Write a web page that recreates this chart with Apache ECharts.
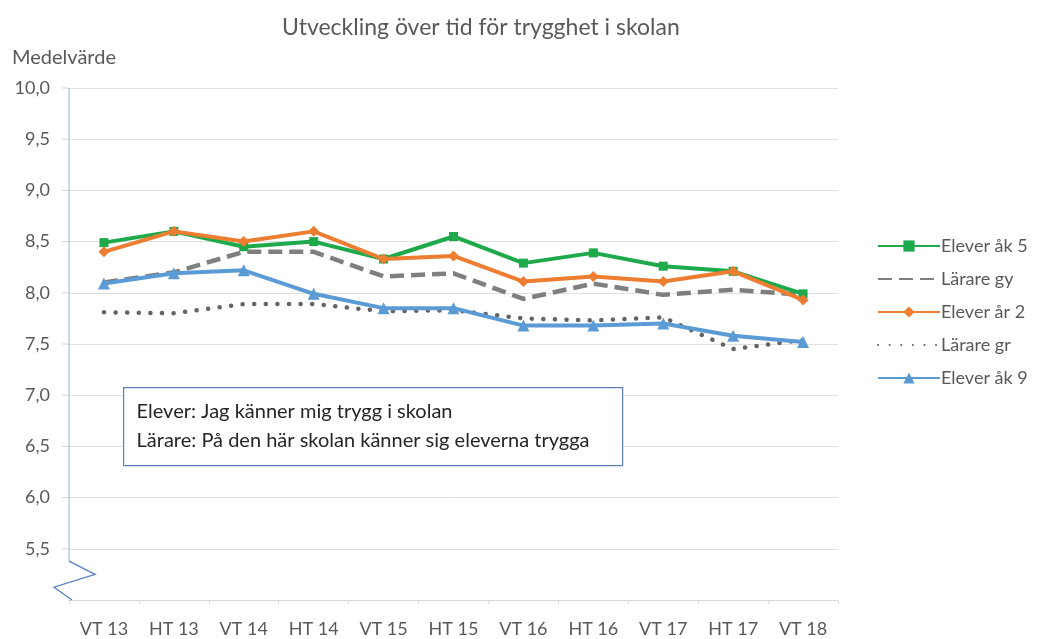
<!DOCTYPE html>
<html>
<head>
<meta charset="utf-8">
<script src="https://cdn.jsdelivr.net/npm/echarts@6/dist/echarts.min.js"></script>
<style>
html,body{margin:0;padding:0;background:#fff;}
#chart{width:1043px;height:639px;}
</style>
</head>
<body>
<div id="chart"></div>
<script>
var categories = ['VT 13','HT 13','VT 14','HT 14','VT 15','HT 15','VT 16','HT 16','VT 17','HT 17','VT 18'];
var eleverAk5  = [8.49, 8.60, 8.45, 8.50, 8.33, 8.55, 8.29, 8.39, 8.26, 8.21, 7.99];
var lararGy    = [8.10, 8.20, 8.40, 8.40, 8.16, 8.19, 7.94, 8.09, 7.98, 8.03, 7.98];
var eleverAr2  = [8.40, 8.60, 8.50, 8.60, 8.33, 8.36, 8.11, 8.16, 8.11, 8.21, 7.93];
var lararGr    = [7.81, 7.80, 7.89, 7.89, 7.82, 7.83, 7.75, 7.73, 7.76, 7.45, 7.54];
var eleverAk9  = [8.09, 8.19, 8.22, 7.99, 7.85, 7.85, 7.68, 7.68, 7.70, 7.58, 7.52];
var seriesNames = ['Elever åk 5','Lärare gy','Elever år 2','Lärare gr','Elever åk 9'];
var titleText = 'Utveckling över tid för trygghet i skolan';
var yAxisName = 'Medelvärde';
var noteLines = ['Elever: Jag känner mig trygg i skolan', 'Lärare: På den här skolan känner sig eleverna trygga'];

var FONT = 'Lato, "Open Sans", sans-serif';
var TXT = '#595959';

var chart = echarts.init(document.getElementById('chart'), null, {renderer:'canvas'});

function lineSeries(name, data, color, opts){
  return {
    name: name, type: 'line', data: data, z: opts.z || 2,
    symbol: opts.symbol || 'none', symbolSize: opts.symbolSize || 8,
    showSymbol: !!opts.symbol,
    lineStyle: {color: color, width: opts.width || 3.5, type: opts.type || 'solid', cap: opts.cap || 'butt'},
    itemStyle: {color: color},
    emphasis: {disabled: true},
    animation: false
  };
}

var hiddenIcon = {color: 'rgba(0,0,0,0)', borderWidth: 0, opacity: 0};

var option = {
  backgroundColor: '#fff',
  animation: false,
  title: {
    text: titleText, left: 277, top: 11,
    textStyle: {fontFamily: FONT, fontSize: 23, fontWeight: 'normal', color: TXT}
  },
  legend: {
    orient: 'vertical', left: 872, top: 232, itemGap: 15,
    itemWidth: 62, itemHeight: 14,
    textStyle: {fontFamily: FONT, fontSize: 18, lineHeight: 18, color: TXT, padding: [0,0,0,-4]},
    data: [
      {name: seriesNames[0]},
      {name: seriesNames[1], itemStyle: hiddenIcon},
      {name: seriesNames[2]},
      {name: seriesNames[3], itemStyle: hiddenIcon},
      {name: seriesNames[4]}
    ]
  },
  grid: {left: 69, right: 205, top: 88, bottom: 39, containLabel: false},
  xAxis: {
    type: 'category', data: categories, boundaryGap: true,
    axisLine: {show: true, lineStyle: {color: '#D9D9D9', width: 1}},
    axisTick: {show: true, length: 4, inside: false, lineStyle: {color: '#D9D9D9'}},
    axisLabel: {fontFamily: FONT, fontSize: 18, color: TXT, margin: 20}
  },
  yAxis: {
    type: 'value', min: 5, max: 10, interval: 0.5,
    name: yAxisName, nameLocation: 'end', nameGap: 20,
    nameTextStyle: {fontFamily: FONT, fontSize: 20, color: TXT, align: 'left', padding: [0,0,0,-57]},
    axisLine: {show: false},
    axisTick: {show: false},
    splitLine: {show: true, lineStyle: {color: '#E0E0E0', width: 1}},
    axisLabel: {
      fontFamily: FONT, fontSize: 18, color: TXT, margin: 19,
      formatter: function(v){ if (v <= 5) return ''; return v.toFixed(1).replace('.', ','); }
    }
  },
  series: [
    lineSeries(seriesNames[0], eleverAk5, '#1EAA4B', {symbol:'rect', symbolSize: 9, width: 4, z: 5}),
    lineSeries(seriesNames[1], lararGy, '#7F7F7F', {type:[14,7], width: 4.5, z: 3}),
    lineSeries(seriesNames[2], eleverAr2, '#ED7D31', {symbol:'diamond', symbolSize: 11, width: 4, z: 6}),
    lineSeries(seriesNames[3], lararGr, '#646464', {type:[0.1,11.5], width: 4.5, cap:'round', z: 2}),
    lineSeries(seriesNames[4], eleverAk9, '#5B9BD5', {symbol:'triangle', symbolSize: 12, width: 4, z: 4})
  ]
};
chart.setOption(option);

// decorations: axis line with break marker, axis ticks and the note box
var top10 = chart.convertToPixel({yAxisIndex:0}, 10);
var y55 = chart.convertToPixel({yAxisIndex:0}, 5.5);
var y50 = chart.convertToPixel({yAxisIndex:0}, 5);
var step = chart.convertToPixel({xAxisIndex:0}, 1) - chart.convertToPixel({xAxisIndex:0}, 0);
var ax = chart.convertToPixel({xAxisIndex:0}, 0) - step / 2;
var gap = y50 - y55;
var deco = [];
for (var v = 5.5; v <= 10.001; v += 0.5) {
  var py = chart.convertToPixel({yAxisIndex:0}, v);
  deco.push({type:'line', shape:{x1: ax - 7, y1: py, x2: ax, y2: py}, style:{stroke:'#D0D0D0', lineWidth:1}, silent:true});
}
deco.push({type:'line', silent:true, z: 10, shape:{x1: ax, y1: top10, x2: ax, y2: y55 + gap*0.24}, style:{stroke:'#A9BDDD', lineWidth:1.2}});
deco.push({type:'polyline', silent:true, z: 10,
  shape:{points:[[ax, y55 + gap*0.24],[ax+26, y55 + gap*0.5],[ax-15, y55 + gap*0.75],[ax+3, y50]]},
  style:{stroke:'#5F82C4', lineWidth:1.4, fill:null}});
deco.push({type:'group', left: 123, top: 387, z: 20, silent:true, children:[
  {type:'rect', shape:{x:0, y:0, width:499, height:78}, style:{fill:'#fff', stroke:'#5D7FC0', lineWidth:1.2}},
  {type:'text', x: 13, y: 24, style:{text: noteLines[0], font: '20px ' + FONT, fill:'#262626', verticalAlign:'middle'}},
  {type:'text', x: 13, y: 53, style:{text: noteLines[1], font: '20px ' + FONT, fill:'#262626', verticalAlign:'middle'}}
]});
chart.setOption({graphic: deco});
</script>
</body>
</html>
